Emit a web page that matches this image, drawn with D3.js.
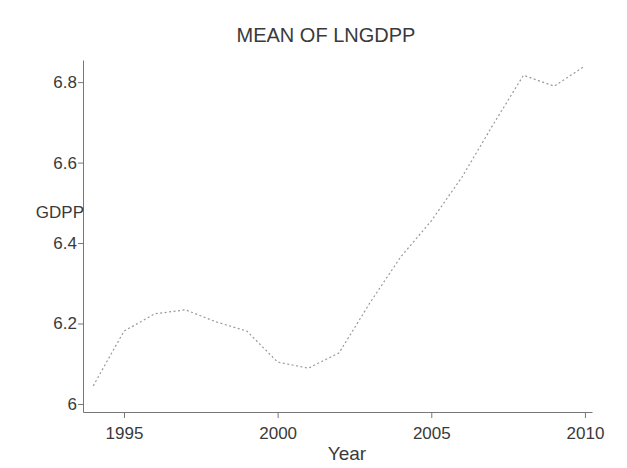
<!DOCTYPE html>
<html>
<head>
<meta charset="utf-8">
<script src="https://cdn.jsdelivr.net/npm/d3@7/dist/d3.min.js"></script>
<style>
  html, body { margin: 0; padding: 0; background: #fff; }
  svg text { font-family: "Liberation Sans", Arial, sans-serif; fill: #3a3a3a; }
</style>
</head>
<body>
<svg id="chart" width="627" height="468"></svg>
<script>
// Mean of log GDP per person, by year
const years  = [1994, 1995, 1996, 1997, 1998, 1999, 2000, 2001, 2002,
                2003, 2004, 2005, 2006, 2007, 2008, 2009, 2010];
const lngdpp = [6.045, 6.181, 6.224, 6.234, 6.204, 6.181, 6.104, 6.089, 6.127,
                6.251, 6.365, 6.455, 6.564, 6.693, 6.817, 6.790, 6.840];
const xTicks = [1995, 2000, 2005, 2010];
const yTicks = [6, 6.2, 6.4, 6.6, 6.8];
const yTickLabels = ["6", "6.2", "6.4", "6.6", "6.8"];

const svg = d3.select("#chart");

const x = d3.scaleLinear().domain([1993.666, 2010.23]).range([83, 592]);
const y = d3.scaleLinear().domain([5.980, 6.855]).range([412, 60]);

// Title
svg.append("text")
  .attr("x", 326).attr("y", 42)
  .attr("text-anchor", "middle")
  .style("font-size", "20px")
  .text("MEAN OF LNGDPP");

// Y axis
const yAxis = d3.axisLeft(y)
  .tickValues(yTicks)
  .tickFormat((d, i) => yTickLabels[i])
  .tickSize(5)
  .tickPadding(1)
  .tickSizeOuter(0);
const gy = svg.append("g").attr("transform", "translate(83,0)").call(yAxis);
gy.select(".domain").attr("stroke", "#777");
gy.selectAll(".tick line").attr("stroke", "#777");
gy.selectAll(".tick text").style("font-size", "17px").attr("fill", "#3a3a3a");

// X axis
const xAxis = d3.axisBottom(x)
  .tickValues(xTicks)
  .tickFormat(d3.format("d"))
  .tickSize(6)
  .tickPadding(9)
  .tickSizeOuter(0);
const gx = svg.append("g").attr("transform", "translate(0,412)").call(xAxis);
gx.select(".domain").attr("stroke", "#777");
gx.selectAll(".tick line").attr("stroke", "#777");
gx.selectAll(".tick text").style("font-size", "17px").attr("fill", "#3a3a3a");

// Axis titles
svg.append("text")
  .attr("x", 347).attr("y", 460)
  .attr("text-anchor", "middle")
  .style("font-size", "19px")
  .text("Year");

svg.append("text")
  .attr("x", 84).attr("y", 218)
  .attr("text-anchor", "end")
  .style("font-size", "17px")
  .text("GDPP");

// Series line
const line = d3.line()
  .x((d, i) => x(years[i]))
  .y(d => y(d));

svg.append("path")
  .datum(lngdpp)
  .attr("d", line)
  .attr("fill", "none")
  .attr("stroke", "#999")
  .attr("stroke-width", 1.2)
  .attr("stroke-dasharray", "2,2.5");
</script>
</body>
</html>
